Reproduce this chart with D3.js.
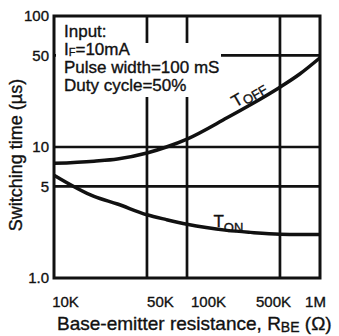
<!DOCTYPE html>
<html lang="en">
    <head>
        <style>
            body { margin: 0; background: #fff; }
            text { font-family: "Liberation Sans", Arial, sans-serif; fill: #111; stroke: #111; stroke-width: 0.35px; }
            .grid { stroke: #111; stroke-width: 2.7px; }
            .frame { fill: none; stroke: #111; stroke-width: 3px; }
            .line { fill: none; stroke: #111; stroke-width: 3.5px; }
        </style>
        <script src="https://d3js.org/d3.v7.min.js"></script>
        <title>Switching time vs RBE</title>
    </head>
    <body>
        <div id="chart"></div>
        <script>
            // values
            var resistance = [1e4, 2e4, 3e4, 5e4, 7e4, 1e5, 2e5, 3e5, 5e5, 7e5, 1e6];
            var tOff = [7.5, 7.8, 8.1, 9.0, 10.0, 11.5, 16.7, 21, 28.6, 35.9, 48];
            var tOn = [6.1, 4.2, 3.67, 3.04, 2.79, 2.57, 2.31, 2.23, 2.16, 2.15, 2.15];

            var xTicks = [1e4, 5e4, 1e5, 5e5, 1e6];
            var xTickLabels = ["10K", "50K", "100K", "500K", "1M"];
            var yTicks = [1, 5, 10, 50, 100];
            var yTickLabels = ["1.0", "5", "10", "50", "100"];
            var xGrid = [5e4, 1e5, 5e5];
            var yGrid = [5, 10, 50];
            var legendLines = ["Input:", "I|F|=10mA", "Pulse width=100 mS", "Duty cycle=50%"];

            var margin = {top: 16, right: 19, bottom: 58, left: 54},
                width = 339 - margin.left - margin.right,
                height = 336 - margin.top - margin.bottom;

            var svg = d3.select("#chart")
                .append("svg")
                    .attr("width", 339)
                    .attr("height", 336)
                .append("g")
                    .attr("transform", "translate(" + margin.left + "," + margin.top + ")");

            var x = d3.scaleLog().domain([1e4, 1e6]).range([0, width]);
            var y = d3.scaleLog().domain([1, 100]).range([height, 0]);

            // grid
            svg.selectAll(".vgrid")
                .data(xGrid)
                .enter().append("line")
                    .attr("class", "grid")
                    .attr("x1", d => x(d)).attr("x2", d => x(d))
                    .attr("y1", 0).attr("y2", height);
            svg.selectAll(".hgrid")
                .data(yGrid)
                .enter().append("line")
                    .attr("class", "grid")
                    .attr("x1", 0).attr("x2", width)
                    .attr("y1", d => y(d)).attr("y2", d => y(d));

            // blank box under the input conditions
            svg.append("rect")
                .attr("x", 2).attr("y", 27)
                .attr("width", 165).attr("height", 54)
                .attr("fill", "#fff");

            var legendY = [21, 39, 57, 75];
            var legend = svg.append("text")
                .style("font-size", "17px");
            legendLines.forEach(function(s, i) {
                var parts = s.split("|");
                legend.append("tspan").attr("x", 10).attr("y", legendY[i]).text(parts[0]);
                if (parts.length > 1) {
                    legend.append("tspan").attr("dy", 1).style("font-size", "11px").text(parts[1]);
                    legend.append("tspan").attr("dy", -1).text(parts[2]);
                }
            });

            var valueline = d3.line()
                .x(function(d) { return x(d[0]); })
                .y(function(d) { return y(d[1]); })
                .curve(d3.curveMonotoneX);

            svg.append("path")
                .datum(d3.zip(resistance, tOff))
                .attr("class", "line")
                .attr("d", valueline);
            svg.append("path")
                .datum(d3.zip(resistance, tOn))
                .attr("class", "line")
                .attr("d", valueline);

            svg.append("rect")
                .attr("class", "frame")
                .attr("width", width)
                .attr("height", height);

            // curve labels
            var offLabel = svg.append("text")
                .attr("transform", "translate(" + (x(3e5) - 15) + "," + (y(21) + 3) + ") rotate(-30)")
                .style("font-size", "17px");
            offLabel.append("tspan").text("T");
            offLabel.append("tspan").attr("dy", 3).style("font-size", "13px").text("OFF");

            var onLabel = svg.append("text")
                .attr("x", x(1.5e5) + 3).attr("y", y(2.4) - 1)
                .style("font-size", "17px");
            onLabel.append("tspan").text("T");
            onLabel.append("tspan").attr("dy", 5).style("font-size", "13px").text("ON");

            // axes
            var xNudge = [11, 13, 21, -7, -5];
            var xAxis = svg.append("g")
                .attr("transform", "translate(0," + height + ")")
                .call(d3.axisBottom(x).tickValues(xTicks)
                    .tickFormat(function(d, i) { return xTickLabels[i]; })
                    .tickSize(0).tickPadding(18));
            xAxis.select(".domain").remove();
            xAxis.selectAll("text")
                .attr("dx", function(d, i) { return xNudge[i]; })
                .style("font-size", "15px").attr("fill", "#111");

            var yAxis = svg.append("g")
                .call(d3.axisLeft(y).tickValues(yTicks)
                    .tickFormat(function(d, i) { return yTickLabels[i]; })
                    .tickSize(0).tickPadding(5));
            yAxis.select(".domain").remove();
            yAxis.selectAll("text")
                .style("font-size", "15px").attr("fill", "#111");

            // axis titles
            var xTitle = svg.append("text")
                .attr("x", 3).attr("y", height + 52)
                .style("font-size", "19px");
            xTitle.append("tspan").text("Base-emitter resistance, R");
            xTitle.append("tspan").attr("dy", 2).style("font-size", "14px").text("BE");
            xTitle.append("tspan").attr("dy", -2).text(" (\u03A9)");

            svg.append("text")
                .attr("transform", "translate(" + (-32) + "," + (height / 2 + 8) + ") rotate(-90)")
                .attr("text-anchor", "middle")
                .style("font-size", "18px")
                .text("Switching time (\u00B5s)");
        </script>
    </body>
</html>
